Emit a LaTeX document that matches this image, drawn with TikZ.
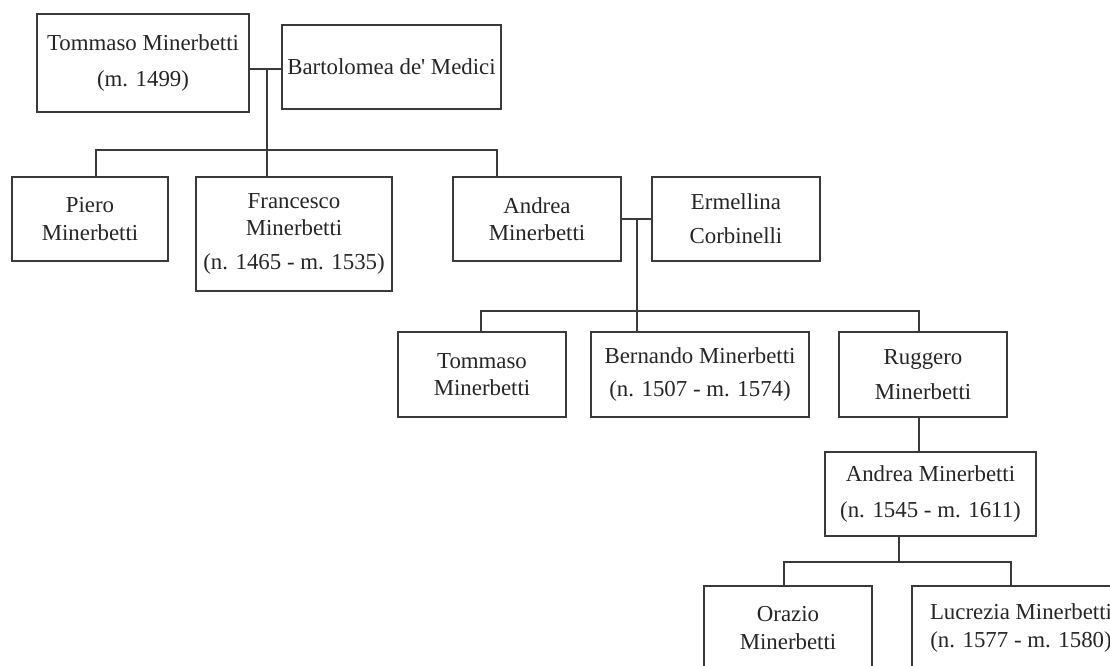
\documentclass[tikz,border=0pt]{standalone}
\usepackage{fontspec}
\setmainfont{Liberation Serif}
\usepackage{tikz}
\definecolor{ink}{HTML}{262626}
\definecolor{rule}{HTML}{3A3A3A}

\begin{document}
\begin{tikzpicture}[x=0.02cm, y=-0.02cm,
    person/.style={draw=rule, line width=0.8pt, fill=white, text=ink, align=center,
      inner sep=0pt, minimum width=3.36cm, minimum height=1.68cm,
      font=\fontsize{13}{15.5}\selectfont},
    link/.style={draw=rule, line width=0.8pt}]
  \useasboundingbox (0,0) rectangle (1110,666);
  \clip (0,0) rectangle (1110,666);

  % First generation
  \node[person, minimum width=4.24cm, minimum height=1.96cm] (tommaso) at (143,63) {Tommaso Minerbetti\\[5pt](m. 1499)};
  \node[person, minimum width=4.38cm] (bartolomea) at (391.5,67) {Bartolomea de\textquotesingle{} Medici};

  % Their children
  \node[person, minimum width=3.12cm] (piero) at (90,219) {Piero\\Minerbetti};
  \node[person, minimum width=3.92cm, minimum height=2.28cm] (francesco) at (294,234) {Francesco\\Minerbetti\\[4pt](n. 1465 - m. 1535)};
  \node[person] (andrea) at (537,219) {Andrea\\Minerbetti};
  \node[person] (ermellina) at (736,219) {Ermellina\\[4pt]Corbinelli};

  % Andrea's children
  \node[person, minimum height=1.70cm] (tommasoj) at (482,374.5) {Tommaso\\Minerbetti};
  \node[person, minimum width=4.36cm, minimum height=1.70cm] (bernando) at (700,374.5) {Bernando Minerbetti\\[3pt](n. 1507 - m. 1574)};
  \node[person, minimum height=1.70cm] (ruggero) at (923,374.5) {Ruggero\\[4pt]Minerbetti};

  % Ruggero's line
  \node[person, minimum width=4.22cm] (andreaj) at (930.5,494) {Andrea Minerbetti\\[5pt](n. 1545 - m. 1611)};
  \node[person] (orazio) at (788,628) {Orazio\\Minerbetti};
  \node[person, minimum width=4.36cm] (lucrezia) at (1021,628) {Lucrezia Minerbetti\\(n. 1577 - m. 1580)};

  % Marriage and descent lines
  \coordinate (wed1) at (267,69);
  \draw[link] (tommaso.east |- wed1) -- (bartolomea.west |- wed1);
  \draw[link] (wed1) -- (wed1 |- francesco.north);
  \coordinate (kids1l) at (96,150);
  \coordinate (kids1r) at (497,150);
  \draw[link] (kids1l |- piero.north) -- (kids1l) -- (kids1r) -- (kids1r |- andrea.north);

  \coordinate (wed2) at (637,219);
  \draw[link] (andrea.east |- wed2) -- (ermellina.west |- wed2);
  \draw[link] (wed2) -- (wed2 |- bernando.north);
  \coordinate (kids2l) at (481,311);
  \coordinate (kids2r) at (919,311);
  \draw[link] (kids2l |- tommasoj.north) -- (kids2l) -- (kids2r) -- (kids2r |- ruggero.north);
  \draw[link] (kids2r |- ruggero.south) -- (kids2r |- andreaj.north);

  \coordinate (kids3) at (899,562);
  \coordinate (kids3l) at (784,562);
  \coordinate (kids3r) at (1011,562);
  \draw[link] (kids3 |- andreaj.south) -- (kids3);
  \draw[link] (kids3l |- orazio.north) -- (kids3l) -- (kids3r) -- (kids3r |- lucrezia.north);
\end{tikzpicture}
\end{document}
